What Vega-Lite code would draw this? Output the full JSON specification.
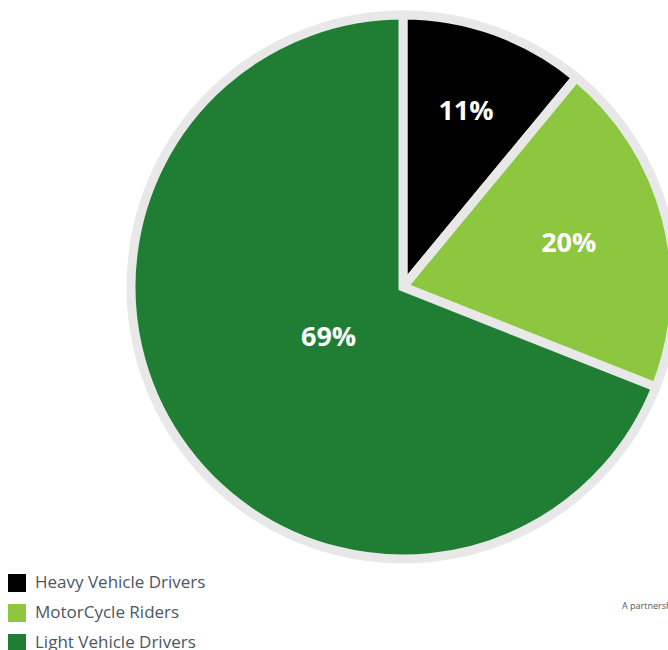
{
  "$schema": "https://vega.github.io/schema/vega-lite/v6.json",
  "autosize": {"type": "none"},
  "width": 806,
  "height": 544,
  "padding": {"top": 15, "left": 0, "right": 0, "bottom": 91},
  "background": "#ffffff",
  "view": {"stroke": null},
  "title": {
    "text": "A partnership between",
    "orient": "bottom",
    "anchor": "start",
    "frame": "group",
    "dx": 622,
    "offset": -50,
    "fontSize": 9,
    "fontWeight": "normal",
    "font": "Open Sans",
    "color": "#555555"
  },
  "data": {
    "values": [
      {"group": "Heavy Vehicle Drivers", "pct": 11, "label": "11%", "order": 1},
      {"group": "MotorCycle Riders", "pct": 20, "label": "20%", "order": 2},
      {"group": "Light Vehicle Drivers", "pct": 69, "label": "69%", "order": 3}
    ]
  },
  "encoding": {
    "theta": {"field": "pct", "type": "quantitative", "stack": true},
    "order": {"field": "order", "type": "quantitative"}
  },
  "layer": [
    {
      "mark": {"type": "arc", "stroke": "#e8e8e8", "strokeWidth": 9, "strokeJoin": "miter"},
      "encoding": {
        "color": {
          "field": "group",
          "type": "nominal",
          "sort": ["Heavy Vehicle Drivers", "MotorCycle Riders", "Light Vehicle Drivers"],
          "scale": {
            "domain": ["Heavy Vehicle Drivers", "MotorCycle Riders", "Light Vehicle Drivers"],
            "range": ["#000000", "#8dc63f", "#1f7e34"]
          },
          "legend": {
            "orient": "none",
            "legendX": 8,
            "legendY": 559,
            "title": null,
            "symbolType": "square",
            "symbolSize": 324,
            "symbolStrokeWidth": 0,
            "symbolOpacity": 1,
            "labelFontSize": 17,
            "labelFont": "Open Sans",
            "labelColor": "#4b5763",
            "labelOffset": 9,
            "rowPadding": 12,
            "labelLimit": 300
          }
        }
      }
    },
    {
      "mark": {"type": "text", "fontSize": 27, "fontWeight": "bold", "font": "Open Sans", "color": "#ffffff"},
      "encoding": {
        "radius": {"field": "pct", "type": "quantitative", "scale": {"domain": [11, 69], "range": [186, 90], "zero": false}},
        "text": {"field": "label", "type": "nominal"}
      }
    }
  ]
}
